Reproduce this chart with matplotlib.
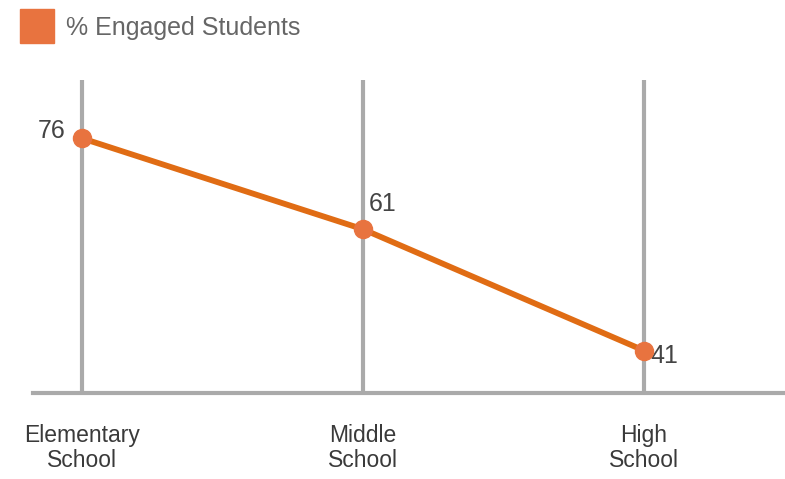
import matplotlib.pyplot as plt
from matplotlib.lines import Line2D

plt.rcParams['font.family'] = ['Liberation Sans', 'DejaVu Sans']

# data
categories = ["Elementary\nSchool", "Middle\nSchool", "High\nSchool"]
engaged = [76, 61, 41]
series_name = "% Engaged Students"
# label offsets in points (dx, dy, ha)
label_pos = [(-12, 5, "right"), (4, 18, "left"), (5, -4, "left")]

line_color = "#e06c14"
dot_color = "#e8733f"
grid_color = "#aaaaaa"

fig = plt.figure(figsize=(7.85, 4.79), dpi=100)
ax = fig.add_axes([33 / 785, 86 / 479, 752 / 785, 313 / 479])

x = list(range(len(categories)))
ax.plot(x, engaged, color=line_color, lw=4.2, zorder=3, solid_capstyle="round")
ax.plot(x, engaged, "o", color=dot_color, markersize=13, zorder=4)

for xi, v, (dx, dy, ha) in zip(x, engaged, label_pos):
    ax.annotate(str(v), (xi, v), xytext=(dx, dy), textcoords="offset points",
                ha=ha, va="center", fontsize=18, color="#444444")

ax.set_xlim(-0.174, 2.502)
ax.set_ylim(34.0, 85.6)
ax.set_xticks(x)
ax.set_xticklabels(categories, fontsize=16.5, color="#3a3a3a", linespacing=1.15)
ax.tick_params(axis="x", length=0, pad=22)
ax.set_yticks([])
ax.xaxis.grid(True, color=grid_color, lw=3)
ax.set_axisbelow(True)
for s in ["top", "left", "right"]:
    ax.spines[s].set_visible(False)
ax.spines["bottom"].set_color(grid_color)
ax.spines["bottom"].set_linewidth(3)

handle = Line2D([], [], marker="s", linestyle="none", color=dot_color, markersize=24)
fig.legend(handles=[handle], labels=[series_name], loc="center left",
           bbox_to_anchor=(12 / 785, 1 - 28 / 479), frameon=False, fontsize=18,
           handletextpad=0.15, borderpad=0, borderaxespad=0, labelcolor="#666666")

fig.savefig("out.png", dpi=100)
